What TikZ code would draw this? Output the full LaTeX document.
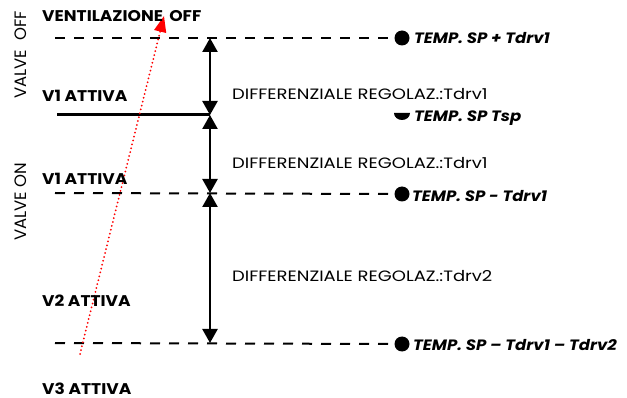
\documentclass[tikz,border=0pt]{standalone}
\usepackage{fontspec}
\setmainfont{Poppins}
\newfontfamily\regf[FakeStretch=1.2]{Poppins}
\newfontfamily\boldf[FakeStretch=1.1]{Poppins}
\usetikzlibrary{arrows.meta}
\begin{document}
\begin{tikzpicture}[x=1pt,y=-1pt,
  dashln/.style={line width=2pt,dash pattern=on 10pt off 9pt},
  dotnode/.style={circle,fill=black,inner sep=0pt,minimum size=15pt},
  dblarr/.style={line width=2.4pt,{Triangle[length=14pt,width=15pt]}-{Triangle[length=14pt,width=15pt]}},
  lbl/.style={inner sep=0pt,anchor=base west,font=\boldf\fontsize{15.5}{18}\selectfont\bfseries},
  dlbl/.style={inner sep=0pt,anchor=base west,font=\regf\fontsize{15}{18}\selectfont},
  tlbl/.style={inner sep=0pt,anchor=base west,font=\boldf\fontsize{15}{18}\selectfont\bfseries\itshape},
  vlbl/.style={inner sep=0pt,anchor=base,rotate=90,font=\fontsize{16.5}{19}\selectfont}]
\useasboundingbox (0,0) rectangle (627,398);
% markers
\node[dotnode] (d1) at (402,38) {};
\node[dotnode] (d2) at (402,194) {};
\node[dotnode] (d3) at (402,344) {};
\coordinate (h) at (402,113);
\fill (h) ++(-8,0) arc (180:0:8 and 7) -- cycle;
% lines
\coordinate (l1) at (55,38);
\coordinate (l2) at (55,193);
\coordinate (l3) at (55,343);
\coordinate (s0) at (57,115);
\draw[dashln] (l1) -- (d1.west);
\draw[dashln] (l2) -- (d2.west);
\draw[dashln] (l3) -- (d3.west);
% arrows
\coordinate (a0) at (210,38);
\coordinate (a1) at (210,115);
\coordinate (a2) at (210,193);
\coordinate (a3) at (210,343);
\draw[line width=3pt] (s0) -- (a1);
\draw[dblarr] (a1) -- (a0);
\draw[dblarr] (a1) -- (a2);
\draw[dblarr] (a2) -- (a3);
% red dotted arrow
\coordinate (r0) at (80,354);
\coordinate (r1) at (164,16);
\draw[red,line width=2pt,line cap=round,dash pattern=on 0pt off 4pt,
  -{Triangle[length=16pt,width=12pt,line cap=butt]}] (r0) -- (r1);
% labels
\node[vlbl] (voff) at (27,55) {VALVE\ \ OFF};
\node[vlbl] (von) at (27,202) {VALVE ON};
\node[lbl] (vent) at (42,22) {VENTILAZIONE\hspace{0.4em}OFF};
\node[lbl] (v1a) at (42,102) {V1 ATTIVA};
\node[lbl] (v1b) at (42,185) {V1 ATTIVA};
\node[lbl] (v2) at (42,307) {V2 ATTIVA};
\node[lbl] (v3) at (42,394) {V3 ATTIVA};
\node[dlbl] (df1) at (232,100) {DIFFERENZIALE REGOLAZ.:Tdrv1};
\node[dlbl] (df2) at (232,169) {DIFFERENZIALE REGOLAZ.:Tdrv1};
\node[dlbl] (df3) at (232,282) {DIFFERENZIALE REGOLAZ.:Tdrv2};
\node[tlbl] (t1) at (414,44) {TEMP. SP + Tdrv1};
\node[tlbl] (t2) at (414,122) {TEMP. SP Tsp};
\node[tlbl] (t3) at (412,202) {TEMP. SP - Tdrv1};
\node[tlbl] (t4) at (413,350) {TEMP. SP – Tdrv1 – Tdrv2};
\end{tikzpicture}
\end{document}
